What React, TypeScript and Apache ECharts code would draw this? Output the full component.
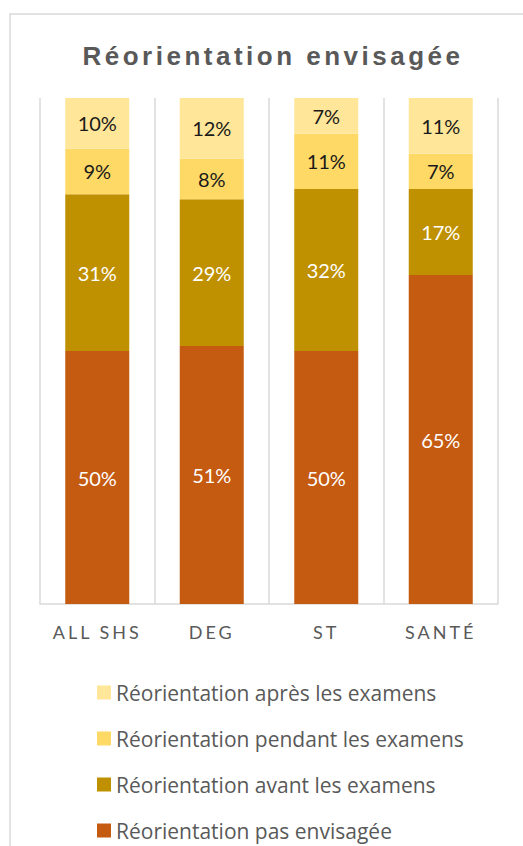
import React, { useEffect, useRef } from "react";
import * as echarts from "echarts";

const TITLE = "Réorientation envisagée";
const categories = ["ALL SHS", "DEG", "ST", "SANTÉ"];
const seriesNames = [
  "Réorientation pas envisagée",
  "Réorientation avant les examens",
  "Réorientation pendant les examens",
  "Réorientation après les examens",
];
const pasEnvisagee = [50, 51, 50, 65];
const avantExamens = [31, 29, 32, 17];
const pendantExamens = [9, 8, 11, 7];
const apresExamens = [10, 12, 7, 11];
const seriesValues = [pasEnvisagee, avantExamens, pendantExamens, apresExamens];
const seriesColors = ["#C55A11", "#BF9000", "#FFD966", "#FFE699"];
const labelColors = ["#FFFFFF", "#FFFFFF", "#1A1A1A", "#1A1A1A"];
const legendOrder = [seriesNames[3], seriesNames[2], seriesNames[1], seriesNames[0]];

function applySpacing(root: HTMLElement) {
  root.querySelectorAll("text").forEach((t) => {
    const s = t.textContent || "";
    if (s === TITLE) (t as any).style.letterSpacing = "3.5px";
    else if (categories.includes(s)) (t as any).style.letterSpacing = "3px";
  });
}

export default function App() {
  const ref = useRef<HTMLDivElement>(null);
  useEffect(() => {
    if (!ref.current) return;
    const chart = echarts.init(ref.current, null, { renderer: "svg" });
    const option: any = {
      animation: false,
      backgroundColor: "#FFFFFF",
      title: {
        text: TITLE,
        left: 268,
        top: 38,
        textAlign: "center",
        textStyle: {
          fontFamily: "Liberation Sans",
          fontWeight: "bold",
          fontSize: 26,
          color: "#595959",
        },
      },
      graphic: [
        {
          type: "rect",
          shape: { x: 10, y: 14, width: 700, height: 1000 },
          style: { fill: "none", stroke: "#D9D9D9", lineWidth: 1.5 },
          silent: true,
          z: -1,
        },
      ],
      grid: { left: 40, right: 25, top: 98, bottom: 242, containLabel: false },
      legend: {
        orient: "vertical",
        left: 97,
        top: 682,
        padding: 0,
        itemWidth: 14,
        itemHeight: 14,
        itemGap: 25,
        icon: "rect",
        data: legendOrder,
        textStyle: { fontFamily: "Open Sans", fontSize: 21, color: "#595959" },
      },
      xAxis: {
        type: "category",
        data: categories,
        axisLine: { show: true, lineStyle: { color: "#D9D9D9", width: 1.5 } },
        axisTick: { show: false },
        splitLine: { show: true, interval: 0, lineStyle: { color: "#D9D9D9", width: 1.5 } },
        axisLabel: {
          margin: 19,
          fontFamily: "Lato",
          fontSize: 18,
          color: "#595959",
        },
      },
      yAxis: {
        type: "value",
        min: 0,
        max: 100,
        show: false,
        splitLine: { show: false },
      },
      series: seriesNames.map((name, i) => ({
        name,
        type: "bar",
        stack: "total",
        barWidth: 64,
        data: seriesValues[i],
        itemStyle: { color: seriesColors[i] },
        label: {
          show: true,
          position: "inside",
          formatter: "{c}%",
          fontFamily: "Lato",
          fontSize: 20,
          color: labelColors[i],
        },
      })),
    };
    chart.setOption(option);
    applySpacing(ref.current);
    const root = ref.current;
    chart.on("finished", () => applySpacing(root));
    return () => {
      chart.dispose();
    };
  }, []);
  return (
    <div
      ref={ref}
      style={{ position: "absolute", left: 0, top: 0, width: 523, height: 846 }}
    />
  );
}
